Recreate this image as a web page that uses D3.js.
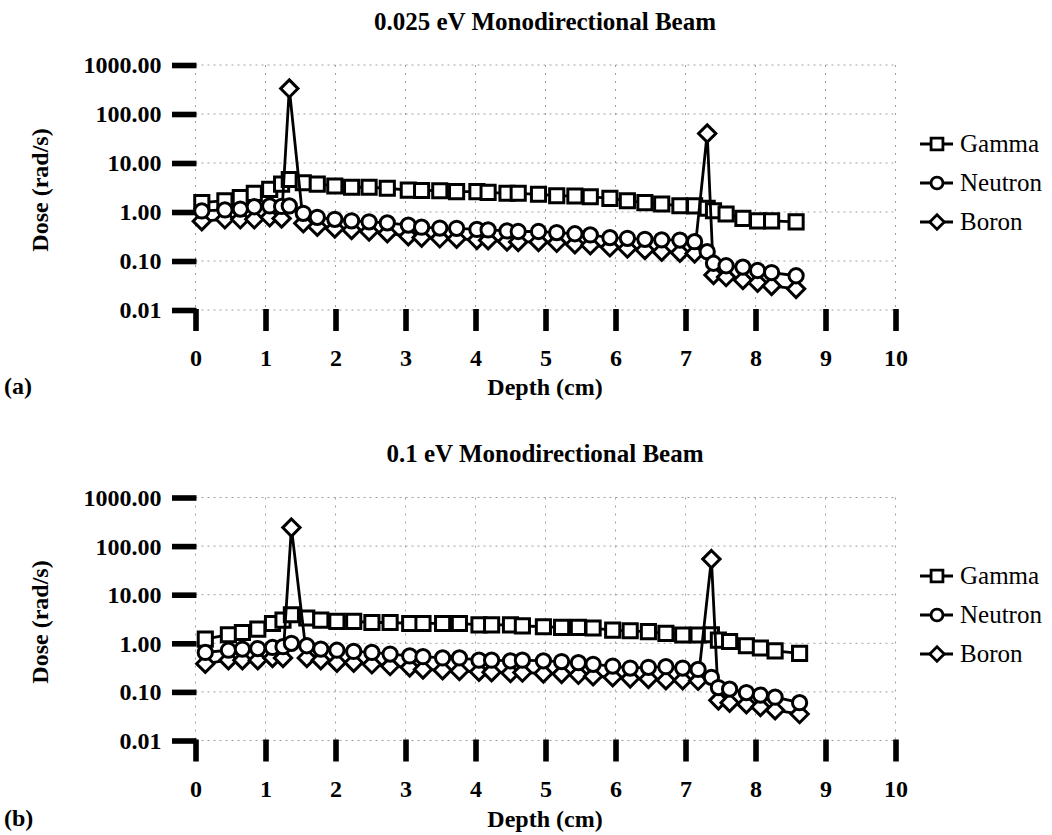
<!DOCTYPE html>
<html><head><meta charset="utf-8">
<script src="https://cdn.jsdelivr.net/npm/d3@7"></script>
<style>body{margin:0;background:#fff}svg{display:block}text{font-family:"Liberation Serif","Times New Roman",serif}</style>
</head><body>
<svg id="chart" width="1052" height="835"></svg>
<script>
// ---------- data ----------
const seriesNames = ["Gamma", "Neutron", "Boron"];
const titles = ["0.025 eV Monodirectional Beam", "0.1 eV Monodirectional Beam"];
const panelLabels = ["(a)", "(b)"];
const xTicks = [0,1,2,3,4,5,6,7,8,9,10];
const yTicks = [0.01, 0.1, 1, 10, 100, 1000];
const yTickLabels = ["0.01", "0.10", "1.00", "10.00", "100.00", "1000.00"];

// panel (a): 0.025 eV
const depthA = [0.09,0.42,0.64,0.84,1.06,1.23,1.34,1.54,1.74,1.99,2.23,2.48,2.74,3.04,3.23,3.49,3.73,4.02,4.18,4.45,4.61,4.90,5.16,5.42,5.64,5.92,6.17,6.42,6.66,6.92,7.13,7.31,7.40,7.58,7.82,8.03,8.23,8.58];
const gammaA = [1.55,1.70,1.96,2.4,2.9,3.7,4.6,3.96,3.7,3.4,3.2,3.2,3.05,2.8,2.75,2.72,2.6,2.6,2.52,2.41,2.41,2.3,2.15,2.12,2.05,1.9,1.7,1.55,1.46,1.34,1.33,1.19,1.06,0.91,0.74,0.66,0.66,0.63];
const neutronA = [1.05,1.1,1.15,1.28,1.33,1.3,1.33,0.94,0.78,0.71,0.66,0.63,0.6,0.54,0.49,0.47,0.465,0.44,0.43,0.41,0.40,0.40,0.38,0.36,0.34,0.30,0.29,0.277,0.27,0.268,0.248,0.155,0.09,0.08,0.075,0.064,0.058,0.05];
const boronA = [0.65,0.71,0.71,0.71,0.78,0.74,330,0.59,0.5,0.46,0.43,0.40,0.37,0.32,0.30,0.29,0.285,0.27,0.265,0.25,0.245,0.245,0.235,0.22,0.21,0.19,0.18,0.168,0.155,0.148,0.143,40,0.052,0.047,0.041,0.036,0.031,0.027];

// panel (b): 0.1 eV
const depthB = [0.14,0.47,0.67,0.89,1.10,1.25,1.37,1.59,1.79,2.02,2.26,2.52,2.78,3.06,3.25,3.53,3.77,4.05,4.23,4.50,4.67,4.97,5.23,5.47,5.68,5.96,6.21,6.47,6.72,6.96,7.18,7.37,7.47,7.63,7.87,8.07,8.28,8.63];
const gammaB = [1.22,1.50,1.67,1.96,2.56,3.0,3.87,3.31,3.0,2.82,2.82,2.68,2.68,2.56,2.56,2.56,2.56,2.40,2.40,2.40,2.29,2.19,2.12,2.12,2.06,1.87,1.81,1.74,1.6,1.48,1.48,1.5,1.16,1.09,0.89,0.80,0.70,0.62];
const neutronB = [0.65,0.72,0.76,0.78,0.82,0.85,1.0,0.89,0.76,0.72,0.68,0.65,0.60,0.55,0.53,0.50,0.50,0.45,0.45,0.435,0.45,0.435,0.42,0.40,0.37,0.34,0.31,0.32,0.33,0.31,0.29,0.20,0.123,0.114,0.097,0.086,0.078,0.06];
const boronB = [0.38,0.45,0.45,0.45,0.50,0.50,240,0.50,0.45,0.40,0.40,0.37,0.34,0.32,0.29,0.28,0.27,0.26,0.255,0.245,0.25,0.24,0.235,0.225,0.21,0.20,0.19,0.185,0.174,0.174,0.169,54,0.067,0.06,0.056,0.049,0.042,0.035];

const panels = [
  {depth: depthA, series: [gammaA, neutronA, boronA], top: 65, bottom: 310, dy: 0},
  {depth: depthB, series: [gammaB, neutronB, boronB], top: 497.5, bottom: 740.5, dy: 432}
];

// ---------- drawing ----------
const svg = d3.select("#chart");
const squareDiamond = {
  draw(ctx, size) {
    const r = Math.sqrt(size / 2);
    ctx.moveTo(0, -r); ctx.lineTo(r, 0); ctx.lineTo(0, r); ctx.lineTo(-r, 0); ctx.closePath();
  }
};
const symbols = [d3.symbolSquare, d3.symbolCircle, squareDiamond];
const symSize = [200, 160, 150];
const drawOrder = [0, 2, 1];

panels.forEach((p, pi) => {
  const g = svg.append("g");
  const x = d3.scaleLinear().domain([0, 10]).range([195.5, 895.5]);
  const y = d3.scaleLog().domain([0.01, 1000]).range([p.bottom, p.top]);

  // grid
  g.append("g").selectAll("line").data(yTicks).join("line")
    .attr("x1", x(0)).attr("x2", x(10)).attr("y1", d => y(d)).attr("y2", d => y(d))
    .attr("stroke", "#a0a0a0").attr("stroke-width", 1).attr("stroke-dasharray", "2,4");
  g.append("g").selectAll("line").data(xTicks).join("line")
    .attr("x1", d => x(d)).attr("x2", d => x(d)).attr("y1", y(1000)).attr("y2", y(0.01))
    .attr("stroke", "#a0a0a0").attr("stroke-width", 1).attr("stroke-dasharray", "2,6");

  // y axis ticks
  const yAxis = d3.axisLeft(y).tickValues(yTicks).tickFormat((d, i) => yTickLabels[i]).tickSize(0).tickPadding(34);
  const ya = g.append("g").attr("transform", `translate(${x(0)},0)`).call(yAxis);
  ya.select(".domain").remove();
  ya.selectAll("text").attr("font-size", 24).attr("font-weight", "bold").attr("fill", "#000")
    .attr("font-family", "Liberation Serif").attr("dy", "0.33em");
  ya.selectAll(".tick").append("rect").attr("x", -23.5).attr("y", -2.8).attr("width", 24.5).attr("height", 5.6).attr("fill", "#000");

  // x axis ticks
  const xAxis = d3.axisBottom(x).tickValues(xTicks).tickFormat(d3.format("d")).tickSize(0).tickPadding(56);
  const xa = g.append("g").attr("transform", `translate(0,${y(0.01)})`).call(xAxis);
  xa.select(".domain").remove();
  xa.selectAll("text").attr("font-size", 24).attr("font-weight", "bold").attr("fill", "#000")
    .attr("font-family", "Liberation Serif").attr("dy", "0");
  xa.selectAll(".tick").append("rect").attr("x", -2.8).attr("y", -1).attr("width", 5.6).attr("height", 22).attr("fill", "#000");

  // series
  drawOrder.forEach(si => {
    const vals = p.series[si];
    const pts = vals.map((v, i) => [p.depth[i], v]);
    g.append("path").datum(pts)
      .attr("d", d3.line().x(d => x(d[0])).y(d => y(d[1])))
      .attr("fill", "none").attr("stroke", "#000").attr("stroke-width", 2.8);
    g.append("g").selectAll("path").data(pts).join("path")
      .attr("transform", d => `translate(${x(d[0])},${y(d[1])})`)
      .attr("d", d3.symbol().type(symbols[si]).size(symSize[si]))
      .attr("fill", "#fff").attr("stroke", "#000").attr("stroke-width", 3);
  });

  // titles
  g.append("text").attr("x", 545).attr("y", 30 + p.dy).attr("text-anchor", "middle")
    .attr("font-size", 25).attr("font-weight", "bold").text(titles[pi]);
  g.append("text").attr("x", 545).attr("y", 395 + p.dy).attr("text-anchor", "middle")
    .attr("font-size", 24).attr("font-weight", "bold").text("Depth (cm)");
  g.append("text").attr("x", 4).attr("y", 394 + p.dy)
    .attr("font-size", 24).attr("font-weight", "bold").text(panelLabels[pi]);
  g.append("text").attr("transform", `translate(48,${190 + p.dy}) rotate(-90)`).attr("text-anchor", "middle")
    .attr("font-size", 24).attr("font-weight", "bold").text("Dose (rad/s)");

  // legend
  seriesNames.forEach((name, si) => {
    const ly = 144 + si * 39 + p.dy;
    g.append("line").attr("x1", 920).attr("x2", 953).attr("y1", ly).attr("y2", ly)
      .attr("stroke", "#000").attr("stroke-width", 2.8);
    g.append("path").attr("transform", `translate(937,${ly})`)
      .attr("d", d3.symbol().type(symbols[si]).size(symSize[si] * 0.7))
      .attr("fill", "#fff").attr("stroke", "#000").attr("stroke-width", 2.8);
    g.append("text").attr("x", 960).attr("y", ly + 8).attr("font-size", 25).text(name);
  });
});
</script>
</body></html>
